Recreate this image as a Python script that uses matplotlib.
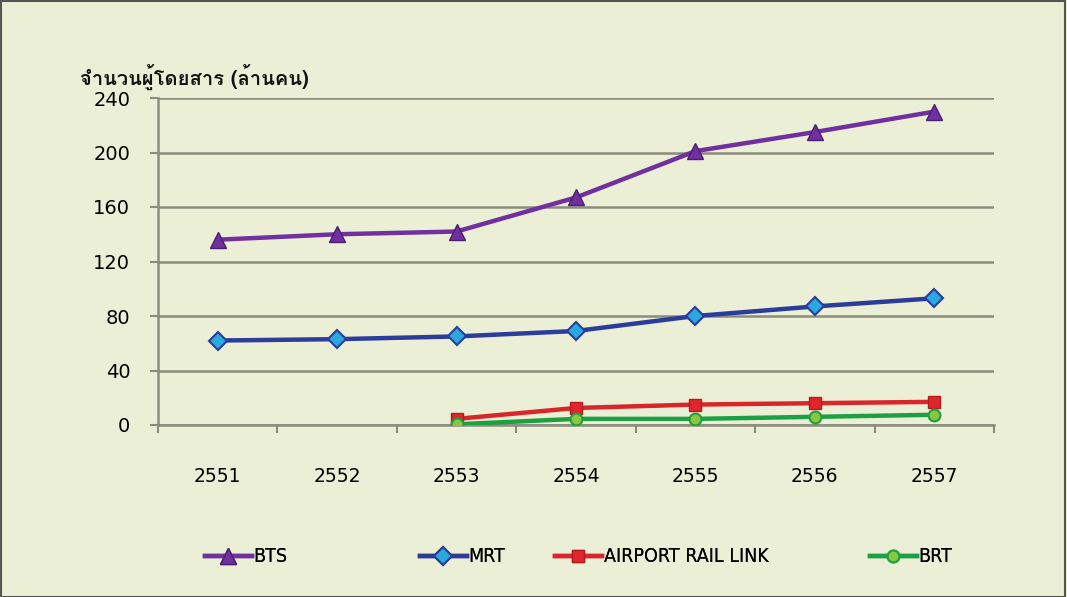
import matplotlib
matplotlib.use("Agg")
import matplotlib.pyplot as plt
from matplotlib import font_manager as fm
from matplotlib.ft2font import FT2Font
import numpy as np

years = ["2551", "2552", "2553", "2554", "2555", "2556", "2557"]
bts = [136, 140, 142, 167, 201, 215, 230]
mrt = [62, 63, 65, 69, 80, 87, 93]
arl_years = ["2553", "2554", "2555", "2556", "2557"]
arl = [4.5, 12.5, 15, 16, 17]
brt_years = ["2553", "2554", "2555", "2556", "2557"]
brt = [0.5, 4.5, 4.5, 6, 7.5]
yticks = [0, 40, 80, 120, 160, 200, 240]
title = "จำนวนผู้โดยสาร (ล้านคน)"

# find a font with Thai glyphs
thai_font = None
for f in fm.fontManager.ttflist:
    try:
        cm = FT2Font(f.fname).get_charmap()
        if 0x0E08 in cm and 0x0E33 in cm and 0x0E19 in cm:
            thai_font = f.name
            break
    except Exception:
        pass
title_family = [thai_font, "DejaVu Sans"] if thai_font else ["DejaVu Sans"]

bg = "#EBEFD5"
grid_c = "#8C8C7C"

fig = plt.figure(figsize=(10.67, 5.97), dpi=100, facecolor=bg)
fig.patches.append(plt.Rectangle((0.0005, 0.0008), 0.998, 0.998, transform=fig.transFigure,
                                 fill=False, edgecolor="#555555", linewidth=1.5))
ax = fig.add_axes([158/1067, 1-425/597, (994-158)/1067, (425-98)/597])
ax.set_facecolor(bg)

xi = {y: i for i, y in enumerate(years)}
lines = []
lines += ax.plot([xi[y] for y in years], bts, color="#7030A0", lw=3.2, marker="^", ms=11,
                 mfc="#7030A0", mec="#4B1F70", mew=1, label="BTS", zorder=5)
lines += ax.plot([xi[y] for y in years], mrt, color="#2B3C9B", lw=3.2, marker="D", ms=9,
                 mfc="#2AA8E0", mec="#2B3C9B", mew=1.5, label="MRT", zorder=5)
lines += ax.plot([xi[y] for y in arl_years], arl, color="#D9262B", lw=3.2, marker="s", ms=8.5,
                 mfc="#E0262B", mec="#B01E22", mew=1, label="AIRPORT RAIL LINK", zorder=5)
lines += ax.plot([xi[y] for y in brt_years], brt, color="#1DA043", lw=3.2, marker="o", ms=8.5,
                 mfc="#8CC63F", mec="#1DA043", mew=1.5, label="BRT", zorder=5)

ax.set_xlim(-0.5, len(years) - 0.5)
ax.set_ylim(0, 240)
ax.set_yticks(yticks)
ax.set_yticklabels([str(v) for v in yticks], fontsize=14)
ax.set_xticks(np.arange(-0.5, len(years), 1.0))
ax.set_xticklabels([])
ax.set_xticks(np.arange(len(years)), minor=True)
ax.set_xticklabels(years, minor=True, fontsize=13.5)
ax.tick_params(axis="x", which="minor", length=0, pad=30)
ax.tick_params(axis="x", which="major", length=6, width=1.5, color=grid_c, direction="out")
ax.tick_params(axis="y", length=6, width=1.5, color=grid_c, pad=14)
ax.grid(axis="y", color=grid_c, lw=1.8)
ax.set_axisbelow(True)
for s in ["top", "right"]:
    ax.spines[s].set_visible(False)
for s in ["left", "bottom"]:
    ax.spines[s].set_color(grid_c)
    ax.spines[s].set_linewidth(1.8)

fig.text(80/1067, 1-77/597, title, fontsize=14.5, fontweight="bold", family=title_family,
         va="center", ha="left", color="#111111")

leg_x = [205, 420, 555, 870]
for ln, lx in zip(lines, leg_x):
    lg = fig.legend([ln], [ln.get_label()], loc="center left",
                    bbox_to_anchor=(lx/1067, 1-557/597), frameon=False,
                    handlelength=2.4, handletextpad=0.1, borderpad=0, borderaxespad=0,
                    prop={"family": "DejaVu Sans", "stretch": "condensed", "size": 14})
    fig.add_artist(lg)

fig.savefig("out.png", dpi=100, facecolor=bg)
